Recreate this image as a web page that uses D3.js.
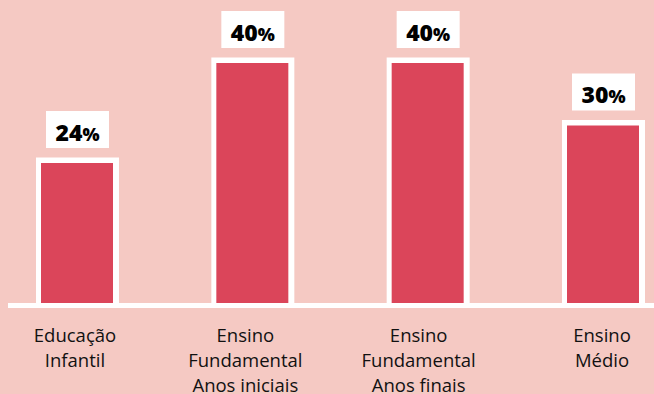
<!DOCTYPE html>
<html>
<head>
<meta charset="utf-8">
<script src="https://cdn.jsdelivr.net/npm/d3@7"></script>
<style>
  html, body { margin: 0; padding: 0; background: #f5c9c3; }
  svg { display: block; }
</style>
</head>
<body>
<svg id="chart" width="654" height="394"></svg>
<script>
// ---- data ----
const categories = [
  ["Educação", "Infantil"],
  ["Ensino", "Fundamental", "Anos iniciais"],
  ["Ensino", "Fundamental", "Anos finais"],
  ["Ensino", "Médio"]
];
const values = [24, 40, 40, 30];
const valueLabels = ["24", "40", "40", "30"];

// ---- layout ----
const W = 654, H = 394;
const baseY = 303;
const barW = 72;
const outline = 5;
const bg = "#f5c9c3", red = "#db455a";
const labelDx = [-2, -7, -9, -1];

const svg = d3.select("#chart");
svg.append("rect").attr("width", W).attr("height", H).attr("fill", bg);

const x = d3.scalePoint().domain(d3.range(categories.length)).range([77, 603]);
const y = d3.scaleLinear().domain([0, 40]).range([313, 63]);

const g = svg.append("g");

// baseline
g.append("rect").attr("x", 8).attr("y", baseY).attr("width", W - 8).attr("height", 5).attr("fill", "#fff");

const bars = g.selectAll("g.bar").data(values).join("g").attr("class", "bar");

// white outline
bars.append("rect")
  .attr("x", (d, i) => x(i) - barW / 2 - outline)
  .attr("y", d => y(d) - outline - 0.5)
  .attr("width", barW + outline * 2 + 1)
  .attr("height", d => baseY - y(d) + outline + 0.5)
  .attr("fill", "#fff");

// red bar
bars.append("rect")
  .attr("x", (d, i) => x(i) - barW / 2)
  .attr("y", d => y(d))
  .attr("width", barW)
  .attr("height", d => baseY - y(d))
  .attr("fill", red);

// value label boxes
const boxW = 63, boxH = 37, gap = 10;
bars.append("rect")
  .attr("x", (d, i) => x(i) - boxW / 2 + 0.5)
  .attr("y", d => y(d) - outline - gap - boxH)
  .attr("width", boxW)
  .attr("height", boxH)
  .attr("fill", "#fff");

const vt = bars.append("text")
  .attr("x", (d, i) => x(i) + 0.5)
  .attr("y", d => y(d) - outline - gap - 7.5)
  .attr("text-anchor", "middle")
  .attr("font-family", "'Open Sans', sans-serif")
  .attr("font-weight", 800)
  .attr("fill", "#000");
vt.append("tspan").attr("font-size", 23).text((d, i) => valueLabels[i]);
vt.append("tspan").attr("font-size", 18).text("%");

// category labels
const ct = g.selectAll("text.cat").data(categories).join("text")
  .attr("class", "cat")
  .attr("text-anchor", "middle")
  .attr("font-family", "'Open Sans', sans-serif")
  .attr("font-size", 18.5)
  .attr("fill", "#111");
ct.selectAll("tspan").data((d, i) => d.map(s => ({ s, i }))).join("tspan")
  .attr("x", d => x(d.i) + labelDx[d.i])
  .attr("y", (d, j) => 342 + j * 25)
  .text(d => d.s);
</script>
</body>
</html>
